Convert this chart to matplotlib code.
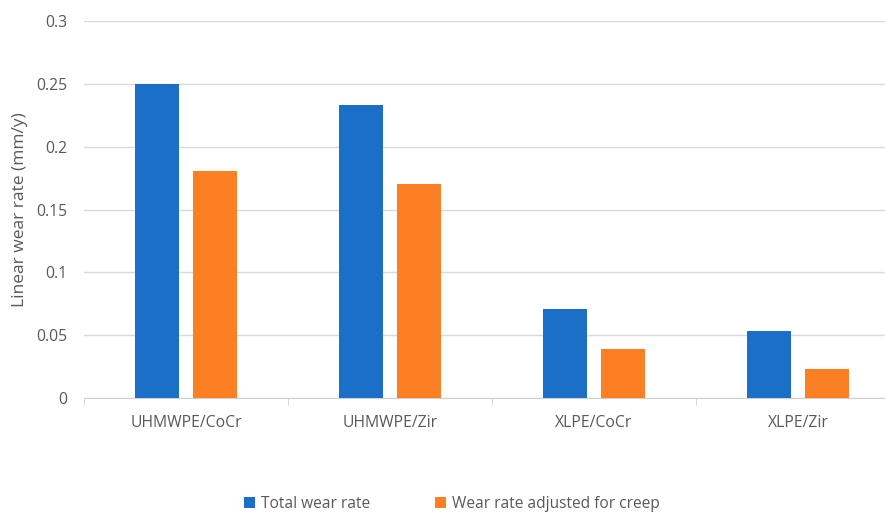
import matplotlib.pyplot as plt
import numpy as np

categories = ['UHMWPE/CoCr', 'UHMWPE/Zir', 'XLPE/CoCr', 'XLPE/Zir']
total_wear = [0.250, 0.233, 0.071, 0.053]
adjusted_wear = [0.181, 0.170, 0.039, 0.023]
yticks = [0, 0.05, 0.1, 0.15, 0.2, 0.25, 0.3]
ytick_labels = ['0', '0.05', '0.1', '0.15', '0.2', '0.25', '0.3']

plt.rcParams['font.family'] = ['Open Sans', 'DejaVu Sans']
grey = '#595959'

fig = plt.figure(figsize=(8.85, 5.12), dpi=100)
# plot area runs a little past the right edge, as in the reference
ax = fig.add_axes([84 / 885, 1 - 398 / 512, 816 / 885, 377 / 512])

x = np.arange(len(categories)) + 0.5
w = 0.22
ax.bar(x - 0.142, total_wear, w, color='#1b6fc8', label='Total wear rate', zorder=3)
ax.bar(x + 0.142, adjusted_wear, w, color='#fd7f24', label='Wear rate adjusted for creep', zorder=3)

ax.set_xlim(0, 4)
ax.set_ylim(0, 0.3)
ax.set_yticks(yticks)
ax.set_yticklabels(ytick_labels)
ax.set_xticks(x)
ax.set_xticklabels(categories)
ax.set_xticks(np.arange(0, 5), minor=True)
ax.tick_params(axis='x', which='major', length=0, pad=12, labelsize=11.3, colors=grey)
ax.tick_params(axis='x', which='minor', length=5, color='#d0d0d0', direction='out')
ax.tick_params(axis='y', length=0, pad=12, labelsize=11.3, colors=grey)
ax.yaxis.grid(True, color='#d9d9d9', linewidth=1, zorder=0)
for s in ['top', 'right', 'left']:
    ax.spines[s].set_visible(False)
ax.spines['bottom'].set_color('#d0d0d0')
ax.set_ylabel('Linear wear rate (mm/y)', fontsize=12.5, color=grey)
ax.yaxis.set_label_coords(-0.069, 0.5)

leg = fig.legend(loc='center', bbox_to_anchor=(452 / 885, 1 - 504 / 512), ncol=2,
                 frameon=False, fontsize=11.2, handlelength=0.7, handleheight=0.7,
                 columnspacing=4.2, handletextpad=0.4)
for t in leg.get_texts():
    t.set_color(grey)

fig.savefig('out.png', dpi=100)
